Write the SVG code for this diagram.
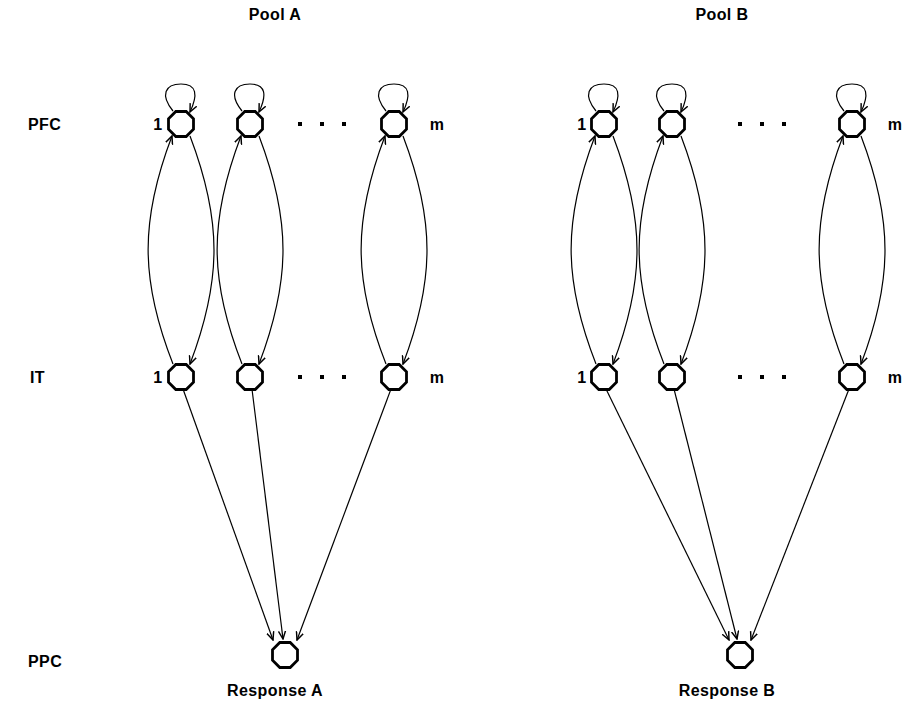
<svg xmlns="http://www.w3.org/2000/svg" xmlns:xlink="http://www.w3.org/1999/xlink" width="908" height="710" viewBox="0 0 908 710">
<style>
text{font-family:"Liberation Sans",Arial,sans-serif;font-weight:bold;font-size:16px;fill:#000;letter-spacing:0.4px}
.node{fill:#fff;stroke:#000;stroke-width:2.8}
.edge{fill:none;stroke:#000;stroke-width:1.2}
.dot{fill:#000}
</style>
<defs>
<path id="oct" d="M-5.2,-12.5 L5.2,-12.5 L12.5,-5.2 L12.5,5.2 L5.2,12.5 L-5.2,12.5 L-12.5,5.2 L-12.5,-5.2 Z"/>
<marker id="ah" viewBox="0 0 10 10" refX="9" refY="5" markerWidth="9" markerHeight="9" markerUnits="userSpaceOnUse" orient="auto">
<path d="M0,1 L9,5 L0,9" fill="none" stroke="#000" stroke-width="1.6"/>
</marker>
</defs>
<rect width="908" height="710" fill="#fff"/>
<g id="labels">
<text x="275" y="20" text-anchor="middle">Pool  A</text>
<text x="722" y="20" text-anchor="middle">Pool  B</text>
<text x="28" y="130">PFC</text>
<text x="30" y="383">IT</text>
<text x="28" y="667">PPC</text>
<text x="275" y="696" text-anchor="middle">Response  A</text>
<text x="727" y="696" text-anchor="middle">Response  B</text>
<text x="158" y="130" text-anchor="middle">1</text>
<text x="158" y="383" text-anchor="middle">1</text>
<text x="437" y="130" text-anchor="middle">m</text>
<text x="437" y="383" text-anchor="middle">m</text>
<text x="582" y="130" text-anchor="middle">1</text>
<text x="582" y="383" text-anchor="middle">1</text>
<text x="895" y="130" text-anchor="middle">m</text>
<text x="895" y="383" text-anchor="middle">m</text>
<rect class="dot" x="298" y="122" width="4" height="4"/><rect class="dot" x="320" y="122" width="4" height="4"/><rect class="dot" x="342" y="122" width="4" height="4"/>
<rect class="dot" x="298" y="375" width="4" height="4"/><rect class="dot" x="320" y="375" width="4" height="4"/><rect class="dot" x="342" y="375" width="4" height="4"/>
<rect class="dot" x="738" y="122" width="4" height="4"/><rect class="dot" x="760" y="122" width="4" height="4"/><rect class="dot" x="782" y="122" width="4" height="4"/>
<rect class="dot" x="738" y="375" width="4" height="4"/><rect class="dot" x="760" y="375" width="4" height="4"/><rect class="dot" x="782" y="375" width="4" height="4"/>
</g>
<g id="connectors">
<path class="edge" marker-end="url(#ah)" d="M173,111 C160,95 165,84 181,84 C197,84 198,95 190,112"/>
<path class="edge" marker-end="url(#ah)" d="M242,111 C229,95 234,84 250,84 C266,84 267,95 259,112"/>
<path class="edge" marker-end="url(#ah)" d="M386,111 C373,95 378,84 394,84 C410,84 411,95 403,112"/>
<path class="edge" marker-end="url(#ah)" d="M596,111 C583,95 588,84 604,84 C620,84 621,95 613,112"/>
<path class="edge" marker-end="url(#ah)" d="M664,111 C651,95 656,84 672,84 C688,84 689,95 681,112"/>
<path class="edge" marker-end="url(#ah)" d="M844,111 C831,95 836,84 852,84 C868,84 869,95 861,112"/>
<path class="edge" marker-end="url(#ah)" d="M173,364 C140,280 140,220 172,136"/>
<path class="edge" marker-end="url(#ah)" d="M190,136 C222,220 222,280 190,364"/>
<path class="edge" marker-end="url(#ah)" d="M242,364 C209,280 209,220 241,136"/>
<path class="edge" marker-end="url(#ah)" d="M259,136 C291,220 291,280 259,364"/>
<path class="edge" marker-end="url(#ah)" d="M386,364 C353,280 353,220 385,136"/>
<path class="edge" marker-end="url(#ah)" d="M403,136 C435,220 435,280 403,364"/>
<path class="edge" marker-end="url(#ah)" d="M596,364 C563,280 563,220 595,136"/>
<path class="edge" marker-end="url(#ah)" d="M613,136 C645,220 645,280 613,364"/>
<path class="edge" marker-end="url(#ah)" d="M664,364 C631,280 631,220 663,136"/>
<path class="edge" marker-end="url(#ah)" d="M681,136 C713,220 713,280 681,364"/>
<path class="edge" marker-end="url(#ah)" d="M844,364 C811,280 811,220 843,136"/>
<path class="edge" marker-end="url(#ah)" d="M861,136 C893,220 893,280 861,364"/>
<path class="edge" marker-end="url(#ah)" d="M183,389 L273,640"/>
<path class="edge" marker-end="url(#ah)" d="M252,389 L283,639"/>
<path class="edge" marker-end="url(#ah)" d="M391,389 L297,640"/>
<path class="edge" marker-end="url(#ah)" d="M606,389 L729,640"/>
<path class="edge" marker-end="url(#ah)" d="M674,389 L737,639"/>
<path class="edge" marker-end="url(#ah)" d="M849,389 L751,640"/>
</g>
<g id="pfcA1"><use xlink:href="#oct" class="node" x="181" y="124"/></g>
<g id="pfcA2"><use xlink:href="#oct" class="node" x="250" y="124"/></g>
<g id="pfcAm"><use xlink:href="#oct" class="node" x="394" y="124"/></g>
<g id="itA1"><use xlink:href="#oct" class="node" x="181" y="377"/></g>
<g id="itA2"><use xlink:href="#oct" class="node" x="250" y="377"/></g>
<g id="itAm"><use xlink:href="#oct" class="node" x="394" y="377"/></g>
<g id="ppcA"><use xlink:href="#oct" class="node" x="285" y="655"/></g>
<g id="pfcB1"><use xlink:href="#oct" class="node" x="604" y="124"/></g>
<g id="pfcB2"><use xlink:href="#oct" class="node" x="672" y="124"/></g>
<g id="pfcBm"><use xlink:href="#oct" class="node" x="852" y="124"/></g>
<g id="itB1"><use xlink:href="#oct" class="node" x="604" y="377"/></g>
<g id="itB2"><use xlink:href="#oct" class="node" x="672" y="377"/></g>
<g id="itBm"><use xlink:href="#oct" class="node" x="852" y="377"/></g>
<g id="ppcB"><use xlink:href="#oct" class="node" x="740" y="655"/></g>
</svg>
